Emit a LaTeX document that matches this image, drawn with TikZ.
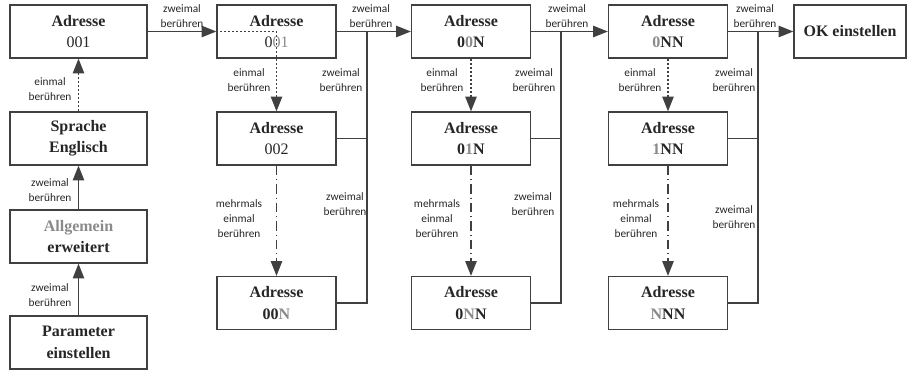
\documentclass[tikz,border=0pt]{standalone}
\usepackage{fontspec}
\setmainfont{Liberation Serif}
\newfontfamily\labfont{Carlito}
\usetikzlibrary{arrows.meta}
\definecolor{ln}{HTML}{404040}
\definecolor{gr}{HTML}{8A8A8A}
\definecolor{tx}{HTML}{262626}
\newcommand{\g}[1]{\textcolor{gr}{#1}}
\tikzset{
  box/.style={draw=ln, line width=1pt, minimum height=39.75pt, inner sep=0pt, align=center,
    font=\fontsize{12}{16}\selectfont\bfseries, text=tx},
  wbox/.style={box, minimum width=102.75pt},
  nbox/.style={box, minimum width=89.25pt},
  lab/.style={font=\labfont\fontsize{8.5}{11.25}\selectfont, align=center, inner sep=0pt, text=tx},
  conn/.style={draw=ln, line width=1pt},
  arr/.style={conn, -{Triangle[length=11pt,width=8.5pt]}},
  dotl/.style={dash pattern=on 1.6pt off 1.4pt},
  dashdotl/.style={dash pattern=on 7pt off 3pt on 0.9pt off 3pt},
}
\begin{document}
\begin{tikzpicture}[x=0.75pt,y=-0.75pt]
\useasboundingbox (0,0) rectangle (908,370);
% column 1
\node[wbox] (p1) at (78.5,31.5) {Adresse\\\mdseries 001};
\node[wbox] (sp) at (78.5,138.5) {Sprache\\Englisch};
\node[wbox] (al) at (78.5,236.5) {\g{Allgemein}\\erweitert};
\node[wbox] (pa) at (78.5,342.5) {Parameter\\einstellen};
% column 2
\node[nbox] (a2) at (276.5,31.5) {Adresse\\\mdseries 0\g{01}};
\node[nbox] (b2) at (276.5,138.5) {Adresse\\\mdseries 002};
\node[nbox] (c2) at (276.5,303) {Adresse\\00\g{N}};
% column 3
\node[nbox] (a3) at (471,31.5) {Adresse\\0\g{0}N};
\node[nbox] (b3) at (471,138.5) {Adresse\\0\g{1}N};
\node[nbox] (c3) at (471,303) {Adresse\\0\g{N}N};
% column 4
\node[nbox] (a4) at (668,31.5) {Adresse\\\g{0}NN};
\node[nbox] (b4) at (668,138.5) {Adresse\\\g{1}NN};
\node[nbox] (c4) at (668,303) {Adresse\\\g{N}NN};
% OK
\node[box, minimum width=84pt] (ok) at (850,31.5) {OK einstellen};
% junction coordinates
\coordinate (j2) at (367,31.5);
\coordinate (j3) at (561,31.5);
\coordinate (j4) at (758,31.5);
% column 1 connectors
\draw[arr,dotl] (sp.north) -- (p1.south);
\draw[arr] (al.north) -- (sp.south);
\draw[arr] (pa.north) -- (al.south);
\draw[arr] (p1.east) -- (a2.west);
% column 2
\draw[arr,dotl] (a2.west) -| (b2.north);
\draw[arr,dashdotl] (b2.south) -- (c2.north);
\draw[arr] (a2.east) -- (a3.west);
\draw[conn] (b2.east) -| (j2);
\draw[conn] (c2.east) -| (j2);
% column 3
\draw[arr,dotl] (a3.south) -- (b3.north);
\draw[arr,dashdotl] (b3.south) -- (c3.north);
\draw[arr] (a3.east) -- (a4.west);
\draw[conn] (b3.east) -| (j3);
\draw[conn] (c3.east) -| (j3);
% column 4
\draw[arr,dotl] (a4.south) -- (b4.north);
\draw[arr,dashdotl] (b4.south) -- (c4.north);
\draw[arr] (a4.east) -- (ok.west);
\draw[conn] (b4.east) -| (j4);
\draw[conn] (c4.east) -| (j4);
% labels
\node[lab] (l1) at (50,89) {einmal\\berühren};
\node[lab] (l2) at (50,190) {zweimal\\berühren};
\node[lab] (l3) at (50,295.5) {zweimal\\berühren};
\node[lab] (l4) at (182,16) {zweimal\\berühren};
\node[lab] (l5) at (249,80.5) {einmal\\berühren};
\node[lab] (l6) at (341,80.5) {zweimal\\berühren};
\node[lab] (l7) at (345,204) {zweimal\\berühren};
\node[lab] (l8) at (239,218.5) {mehrmals\\einmal\\berühren};
\node[lab] (l9) at (371,16) {zweimal\\berühren};
\node[lab] (l10) at (442,80.5) {einmal\\berühren};
\node[lab] (l11) at (534,80.5) {zweimal\\berühren};
\node[lab] (l12) at (533,204) {zweimal\\berühren};
\node[lab] (l13) at (437,218.5) {mehrmals\\einmal\\berühren};
\node[lab] (l14) at (567,16) {zweimal\\berühren};
\node[lab] (l15) at (640,80.5) {einmal\\berühren};
\node[lab] (l16) at (734,80.5) {zweimal\\berühren};
\node[lab] (l17) at (734,217) {zweimal\\berühren};
\node[lab] (l18) at (636,218.5) {mehrmals\\einmal\\berühren};
\node[lab] (l19) at (755,16) {zweimal\\berühren};
\end{tikzpicture}
\end{document}
